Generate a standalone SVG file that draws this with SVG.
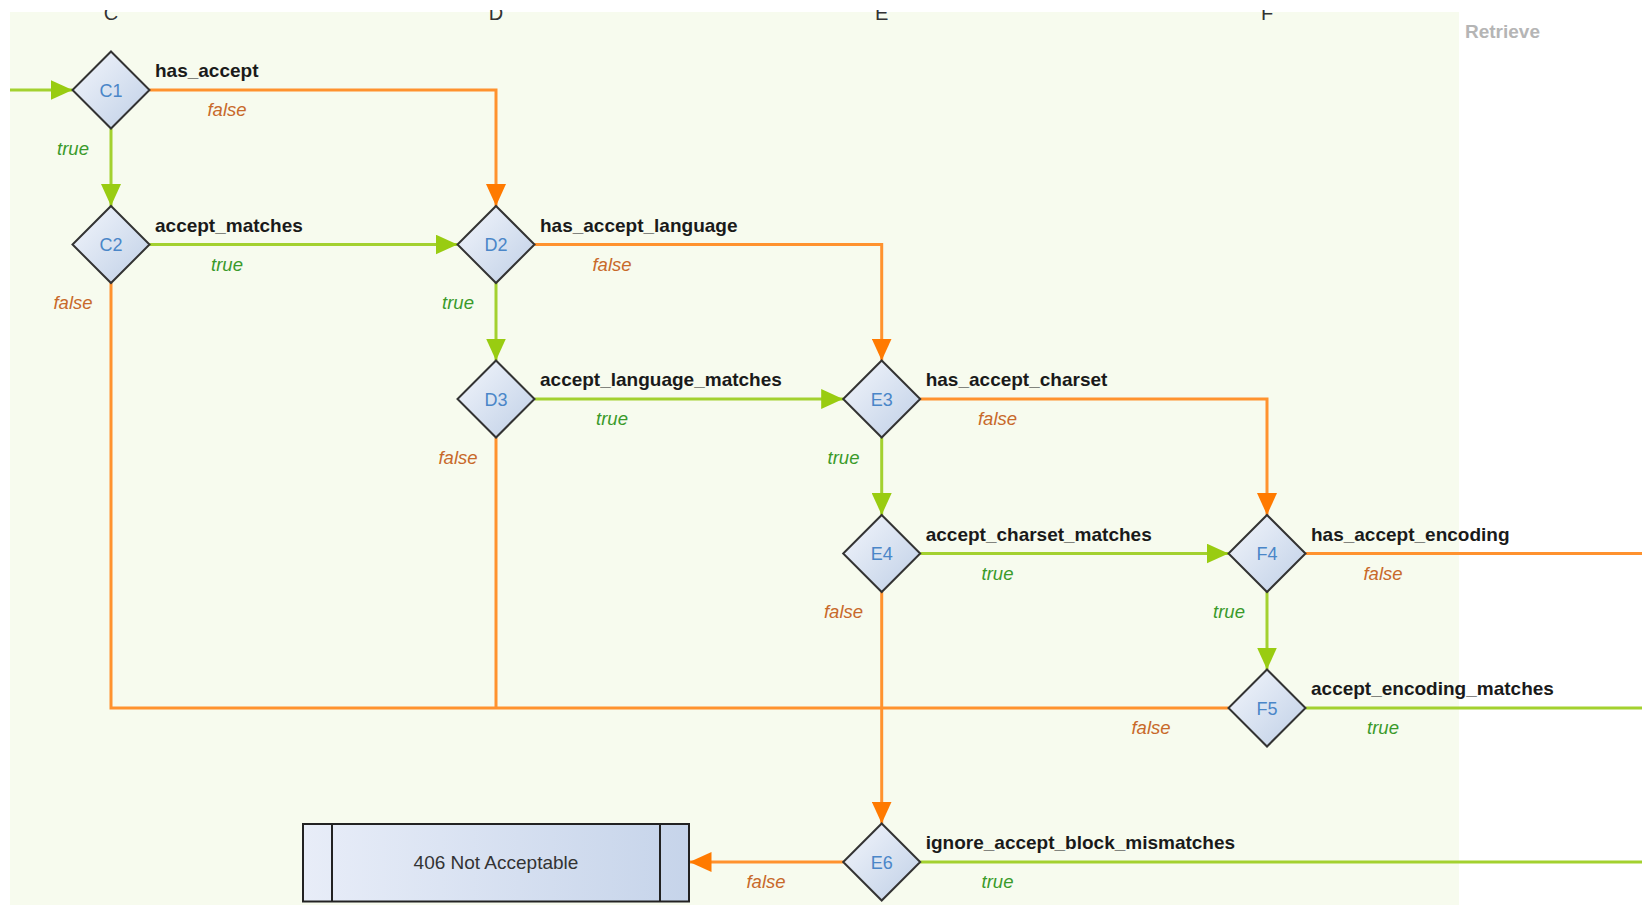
<svg xmlns="http://www.w3.org/2000/svg" xmlns:xlink="http://www.w3.org/1999/xlink" width="1642" height="905" viewBox="0 0 1642 905">
<style>
.name{font-family:"Liberation Sans",Arial,sans-serif;font-size:19px;font-weight:bold;fill:#1a1a1a}
.id{font-family:"Liberation Sans",Arial,sans-serif;font-size:18px;fill:#4a86c8;text-anchor:middle}
.t{font-family:"Liberation Sans",Arial,sans-serif;font-size:18.5px;font-style:italic;fill:#3a9a2a;text-anchor:middle}
.f{font-family:"Liberation Sans",Arial,sans-serif;font-size:18.5px;font-style:italic;fill:#c8692a;text-anchor:middle}
.col{font-family:"Liberation Sans",Arial,sans-serif;font-size:20px;fill:#333;text-anchor:middle}
.g{fill:none;stroke:#a3d12f;stroke-width:3}
.o{fill:none;stroke:#ff922e;stroke-width:3}
.dia{fill:url(#dg);stroke:#333;stroke-width:2}
</style>
<defs>
<linearGradient id="dg" x1="0" y1="0" x2="1" y2="1">
<stop offset="0" stop-color="#f3f6fc"/>
<stop offset="1" stop-color="#bfcfe6"/>
</linearGradient>
<linearGradient id="bg2" x1="0" y1="0" x2="1" y2="0">
<stop offset="0" stop-color="#e8edf8"/>
<stop offset="1" stop-color="#c6d4ea"/>
</linearGradient>
<marker id="ag" viewBox="0 0 22 20" refX="22" refY="10" markerWidth="22" markerHeight="20" markerUnits="userSpaceOnUse" orient="auto">
<path d="M0,0 L22,10 L0,20 z" fill="#99cc11"/>
</marker>
<marker id="ao" viewBox="0 0 22 20" refX="22" refY="10" markerWidth="22" markerHeight="20" markerUnits="userSpaceOnUse" orient="auto">
<path d="M0,0 L22,10 L0,20 z" fill="#ff7a00"/>
</marker>
<polygon id="d" points="0,-38.5 38.5,0 0,38.5 -38.5,0"/>
<clipPath id="topclip"><rect x="0" y="10" width="1642" height="30"/></clipPath>
</defs>
<rect x="0" y="0" width="1642" height="905" fill="#ffffff"/>
<rect x="10" y="12" width="1449" height="893" fill="#f7fbee"/>
<g id="columns" clip-path="url(#topclip)">
<text class="col" x="111" y="20">C</text>
<text class="col" x="496" y="20">D</text>
<text class="col" x="881.7" y="20">E</text>
<text class="col" x="1267" y="20">F</text>
</g>
<text x="1465" y="38" font-family="Liberation Sans, Arial, sans-serif" font-size="19" font-weight="bold" fill="#b5b5b5">Retrieve</text>
<g id="connectors">
<path class="g" d="M10,90 L72.5,90" marker-end="url(#ag)"/>
<path class="o" d="M149.5,90 L496,90 L496,206" marker-end="url(#ao)"/>
<path class="g" d="M111,128.5 L111,206" marker-end="url(#ag)"/>
<path class="g" d="M149.5,244.5 L457.5,244.5" marker-end="url(#ag)"/>
<path class="o" d="M111,283 L111,708 L881.7,708"/>
<path class="o" d="M534.5,244.5 L881.7,244.5 L881.7,360.5" marker-end="url(#ao)"/>
<path class="g" d="M496,283 L496,360.5" marker-end="url(#ag)"/>
<path class="o" d="M496,437.5 L496,708"/>
<path class="g" d="M534.5,399 L843.2,399" marker-end="url(#ag)"/>
<path class="o" d="M920.2,399 L1267,399 L1267,515" marker-end="url(#ao)"/>
<path class="g" d="M881.7,437.5 L881.7,515" marker-end="url(#ag)"/>
<path class="g" d="M920.2,553.5 L1228.5,553.5" marker-end="url(#ag)"/>
<path class="o" d="M881.7,592 L881.7,823.5" marker-end="url(#ao)"/>
<path class="o" d="M1305.5,553.5 L1642,553.5"/>
<path class="g" d="M1267,592 L1267,669.5" marker-end="url(#ag)"/>
<path class="o" d="M1228.5,708 L881.7,708"/>
<path class="g" d="M1305.5,708 L1642,708"/>
<path class="o" d="M843.2,862 L689.5,862" marker-end="url(#ao)"/>
<path class="g" d="M920.2,862 L1642,862"/>
<text class="f" x="227" y="116">false</text>
<text class="t" x="73" y="155">true</text>
<text class="t" x="227" y="270.5">true</text>
<text class="f" x="73" y="309">false</text>
<text class="f" x="612" y="270.5">false</text>
<text class="t" x="458" y="309">true</text>
<text class="t" x="612" y="425">true</text>
<text class="f" x="458" y="463.5">false</text>
<text class="f" x="997.5" y="425">false</text>
<text class="t" x="843.5" y="463.5">true</text>
<text class="t" x="997.5" y="579.5">true</text>
<text class="f" x="843.5" y="618">false</text>
<text class="f" x="1383" y="579.5">false</text>
<text class="t" x="1229" y="618">true</text>
<text class="f" x="1151" y="734">false</text>
<text class="t" x="1383" y="734">true</text>
<text class="f" x="766" y="888">false</text>
<text class="t" x="997.5" y="888">true</text>
</g>
<g id="C1"><use xlink:href="#d" class="dia" x="111" y="90"/><text class="id" x="111" y="96.5">C1</text><text class="name" x="155" y="77">has_accept</text></g>
<g id="C2"><use xlink:href="#d" class="dia" x="111" y="244.5"/><text class="id" x="111" y="251">C2</text><text class="name" x="155" y="231.5">accept_matches</text></g>
<g id="D2"><use xlink:href="#d" class="dia" x="496" y="244.5"/><text class="id" x="496" y="251">D2</text><text class="name" x="540" y="231.5">has_accept_language</text></g>
<g id="D3"><use xlink:href="#d" class="dia" x="496" y="399"/><text class="id" x="496" y="405.5">D3</text><text class="name" x="540" y="386">accept_language_matches</text></g>
<g id="E3"><use xlink:href="#d" class="dia" x="881.7" y="399"/><text class="id" x="881.7" y="405.5">E3</text><text class="name" x="925.7" y="386">has_accept_charset</text></g>
<g id="E4"><use xlink:href="#d" class="dia" x="881.7" y="553.5"/><text class="id" x="881.7" y="560">E4</text><text class="name" x="925.7" y="540.5">accept_charset_matches</text></g>
<g id="F4"><use xlink:href="#d" class="dia" x="1267" y="553.5"/><text class="id" x="1267" y="560">F4</text><text class="name" x="1311" y="540.5">has_accept_encoding</text></g>
<g id="F5"><use xlink:href="#d" class="dia" x="1267" y="708"/><text class="id" x="1267" y="714.5">F5</text><text class="name" x="1311" y="695">accept_encoding_matches</text></g>
<g id="E6"><use xlink:href="#d" class="dia" x="881.7" y="862"/><text class="id" x="881.7" y="868.5">E6</text><text class="name" x="925.7" y="849">ignore_accept_block_mismatches</text></g>
<g id="n406">
<rect x="303" y="824" width="386" height="77.5" fill="url(#bg2)" stroke="#222" stroke-width="2"/>
<line x1="332" y1="824" x2="332" y2="901.5" stroke="#222" stroke-width="2"/>
<line x1="660" y1="824" x2="660" y2="901.5" stroke="#222" stroke-width="2"/>
<text x="496" y="869" font-family="Liberation Sans, Arial, sans-serif" font-size="19" fill="#333" text-anchor="middle">406 Not Acceptable</text>
</g>
</svg>
